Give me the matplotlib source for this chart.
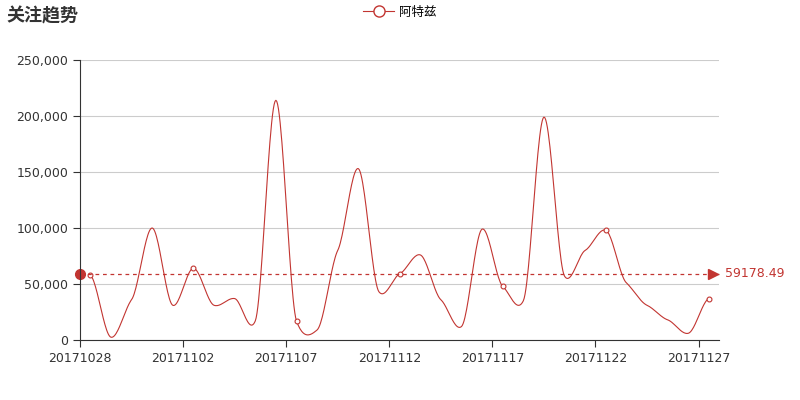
import matplotlib
matplotlib.use("Agg")
import matplotlib.pyplot as plt
import numpy as np
from matplotlib.lines import Line2D

plt.rcParams['font.family'] = ['DejaVu Sans', 'Noto Sans CJK SC']

dates = [f"201710{d}" for d in range(28, 32)] + [f"201711{d:02d}" for d in range(1, 28)]
values = [58000, 2500, 36000, 100000, 31000, 64000, 31000, 37000, 17000, 214000,
          17000, 9000, 80000, 153000, 43000, 59000, 76000, 36000, 12000, 99000,
          48000, 35000, 199000, 57000, 80000, 98000, 51000, 31000, 18000, 6000, 37033.3]
series_name = "阿特兹"
title = "关注趋势"
color = "#c23531"

n = len(values)
x = np.arange(n) + 0.5
y = np.array(values, float)

# smooth curve through data points
xs, ys = [], []
for i in range(n - 1):
    p0 = y[max(i - 1, 0)]; p1 = y[i]; p2 = y[i + 1]; p3 = y[min(i + 2, n - 1)]
    t = np.linspace(0, 1, 24, endpoint=False)
    m1 = (p2 - p0) / 2 * 0.5; m2 = (p3 - p1) / 2 * 0.5
    h00 = 2*t**3 - 3*t**2 + 1; h10 = t**3 - 2*t**2 + t
    h01 = -2*t**3 + 3*t**2; h11 = t**3 - t**2
    seg = np.clip(h00*p1 + h10*m1 + h01*p2 + h11*m2, 1500, None)
    xs.extend(x[i] + t); ys.extend(seg)
xs.append(x[-1]); ys.append(y[-1])

fig = plt.figure(figsize=(8, 4), dpi=100)
ax = fig.add_axes([0.10, 0.15, 0.799, 0.70])
ax.plot(xs, ys, color=color, lw=0.8)
ax.plot(x[::5], y[::5], 'o', ms=3.5, mfc='white', mec=color, mew=0.8)

mean = y.mean()
ax.plot([0, n], [mean, mean], ls=(0, (3, 3)), color=color, lw=0.9, clip_on=False)
ax.plot([0], [mean], 'o', ms=7, color=color, clip_on=False)
ax.plot([n - 0.3], [mean], '>', ms=7, color=color, clip_on=False)
ax.text(n + 0.3, mean, f"{mean:.2f}", color=color, va='center', fontsize=9)

ax.set_xlim(0, n)
ax.set_ylim(0, 250000)
ax.set_yticks(np.arange(0, 250001, 50000))
ax.set_yticklabels([f"{v:,}" for v in range(0, 250001, 50000)], fontsize=9, color='#333333')
ax.set_xticks(np.arange(0, n, 5))
ax.set_xticklabels(dates[::5], fontsize=9, color='#333333')
ax.grid(axis='y', color='#cccccc', lw=0.8)
ax.set_axisbelow(True)
for s in ['top', 'right']:
    ax.spines[s].set_visible(False)
ax.spines['left'].set_color('#333333')
ax.spines['bottom'].set_color('#333333')
ax.tick_params(axis='y', length=5, color='#333333')
ax.tick_params(axis='x', length=5, color='#333333')

fig.text(0.008, 0.96, title, fontsize=13, fontweight='bold', va='center', color='#333333')
h = Line2D([], [], color=color, lw=0.8, marker='o', ms=8, mfc='white', mec=color)
fig.legend([h], [series_name], loc='center', bbox_to_anchor=(0.5, 0.97), frameon=False,
           fontsize=9, handlelength=2.5, handletextpad=0.4)

fig.savefig("out.png")
